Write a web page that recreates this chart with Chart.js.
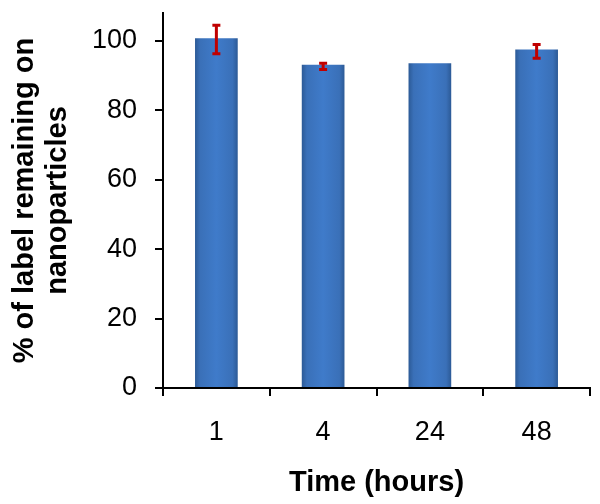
<!DOCTYPE html>
<html>
<head>
<meta charset="utf-8">
<script src="https://cdn.jsdelivr.net/npm/chart.js@4"></script>
<style>
  html, body { margin: 0; padding: 0; background: #fff; }
  #wrap { width: 600px; height: 504px; }
</style>
</head>
<body>
<div id="wrap"><canvas id="chart"></canvas></div>
<script>
const labels = ["1", "4", "24", "48"];
const values = [100.7, 93.1, 93.5, 97.5];
const errLow = [96.3, 91.7, null, 95.0];
const errHigh = [104.5, 93.5, null, 98.9];
const yTicks = [0, 20, 40, 60, 80, 100];

const FONT = "'Liberation Sans', Arial, sans-serif";

function barFill(ctx) {
  const chart = ctx.chart;
  const xs = chart.scales.x;
  if (!chart.chartArea || !xs) return "#3B74C0";
  const x = xs.getPixelForValue(ctx.dataIndex);
  const w = (xs.width / labels.length) * 0.4;
  const g = chart.ctx.createLinearGradient(x - w / 2, 0, x + w / 2, 0);
  g.addColorStop(0, "#2C5A96");
  g.addColorStop(0.12, "#3A70B8");
  g.addColorStop(0.5, "#3F7BCA");
  g.addColorStop(0.88, "#3A70B8");
  g.addColorStop(1, "#2C5A96");
  return g;
}

// error bars drawn from errLow/errHigh through the chart's scales
const errorBars = {
  id: "errorBars",
  afterDatasetsDraw(chart) {
    const ctx = chart.ctx;
    const xs = chart.scales.x, ys = chart.scales.y;
    ctx.save();
    ctx.strokeStyle = "#C00000";
    ctx.lineWidth = 3;
    labels.forEach((l, i) => {
      if (errLow[i] == null) return;
      const x = xs.getPixelForValue(i);
      const y1 = ys.getPixelForValue(errLow[i]);
      const y2 = ys.getPixelForValue(errHigh[i]);
      ctx.beginPath();
      ctx.moveTo(x, y1); ctx.lineTo(x, y2);
      ctx.moveTo(x - 4, y1); ctx.lineTo(x + 4, y1);
      ctx.moveTo(x - 4, y2); ctx.lineTo(x + 4, y2);
      ctx.stroke();
    });
    ctx.restore();
  }
};

new Chart(document.getElementById("chart"), {
  type: "bar",
  data: {
    labels: labels,
    datasets: [{
      data: values,
      backgroundColor: barFill,
      borderWidth: 0,
      barPercentage: 0.4,
      categoryPercentage: 1
    }]
  },
  options: {
    responsive: true,
    maintainAspectRatio: false,
    animation: false,
    layout: { padding: { top: 13, right: 10, bottom: 0, left: 0 } },
    plugins: { legend: { display: false }, tooltip: { enabled: false } },
    scales: {
      x: {
        afterFit(axis) { axis.height = 116; },
        grid: { drawOnChartArea: false, offset: true, color: "#000", lineWidth: 2, tickLength: 8 },
        border: { color: "#000", width: 2 },
        ticks: { color: "#000", font: { family: FONT, size: 27 }, padding: 20 },
        title: {
          display: true, text: "Time (hours)", color: "#000",
          font: { family: FONT, size: 29, weight: "bold" }, padding: { top: 16, bottom: 4 }
        }
      },
      y: {
        min: 0,
        max: 108,
        afterBuildTicks(axis) { axis.ticks = yTicks.map(v => ({ value: v })); },
        afterFit(axis) { axis.width = 163; axis.paddingTop = 0; axis.paddingBottom = 0; },
        grid: { drawOnChartArea: false, color: "#000", lineWidth: 2, tickLength: 8 },
        border: { color: "#000", width: 2 },
        ticks: { color: "#000", font: { family: FONT, size: 27 }, padding: 18 },
        title: {
          display: true, text: ["% of label remaining on", "nanoparticles"], color: "#000",
          font: { family: FONT, size: 29, weight: "bold", lineHeight: 1.12 }, padding: { top: 9, bottom: 20 }
        }
      }
    }
  },
  plugins: [errorBars]
});
</script>
</body>
</html>
